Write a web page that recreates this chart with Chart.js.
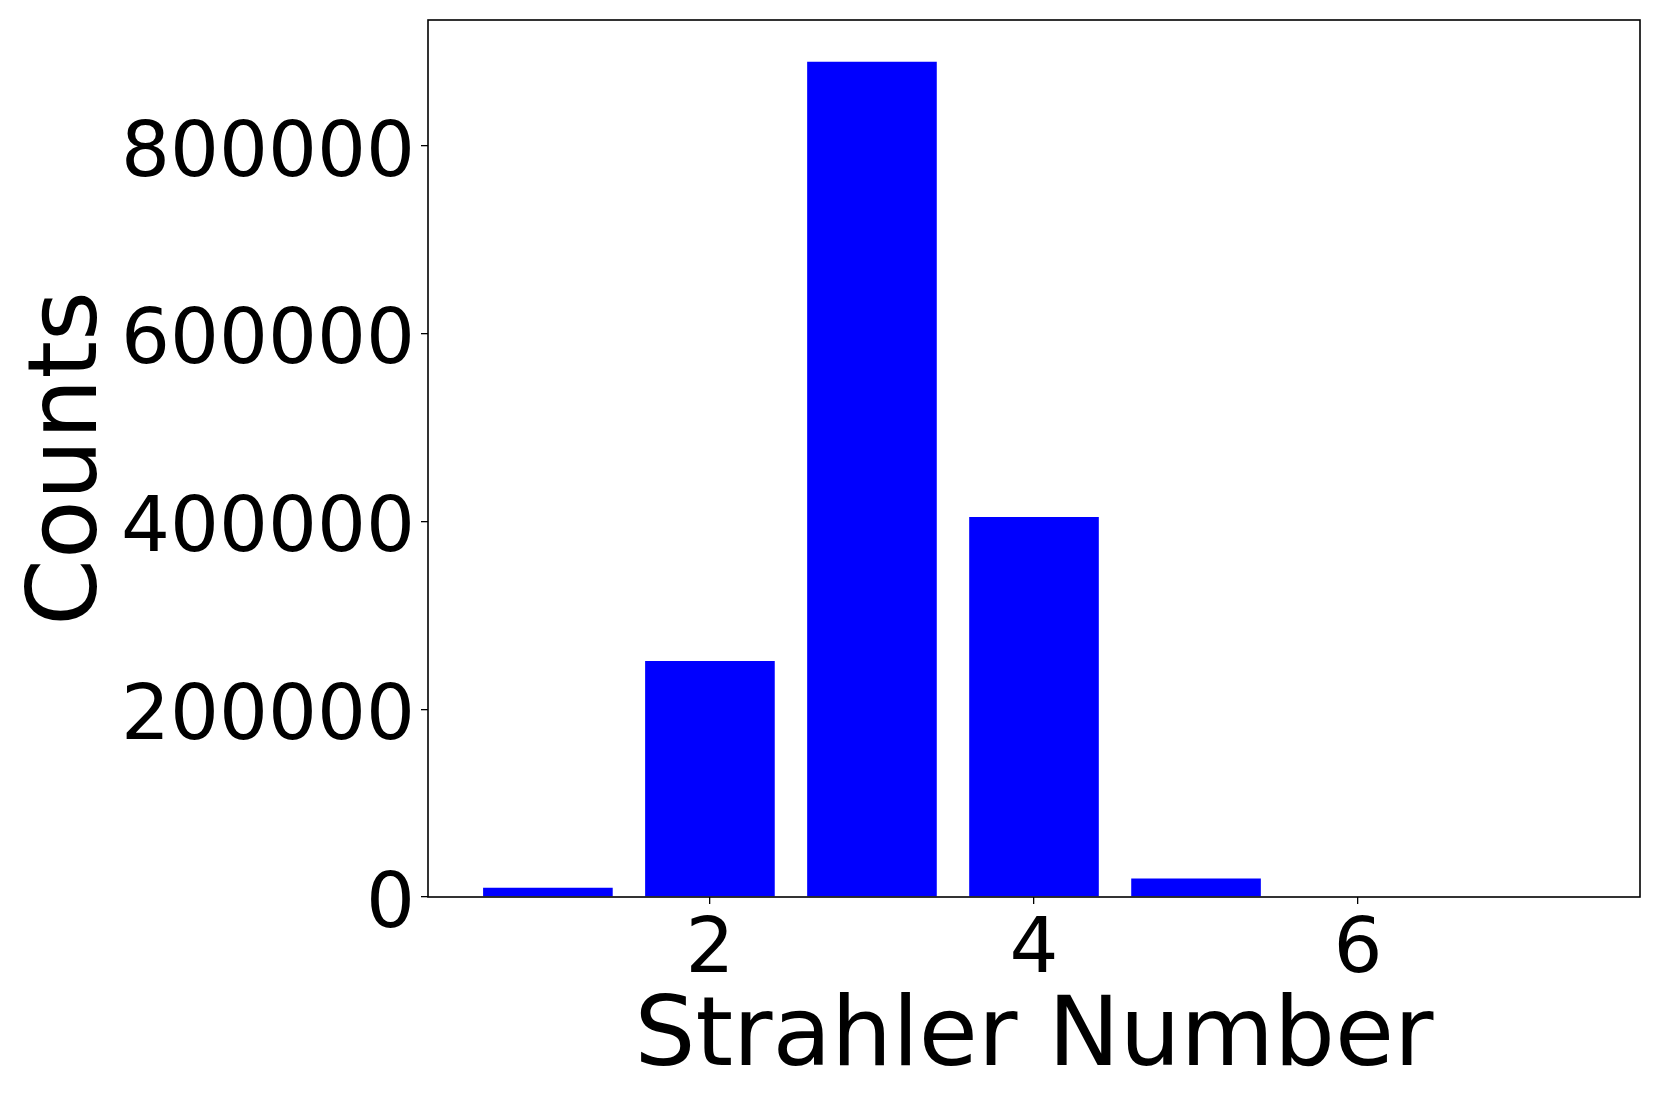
<!DOCTYPE html>
<html>
<head>
<meta charset="utf-8">
<script src="https://cdn.jsdelivr.net/npm/chart.js@4.4.0/dist/chart.umd.min.js"></script>
<style>
  html, body { margin: 0; padding: 0; background: #ffffff; }
  #wrap { width: 1661px; height: 1107px; }
</style>
</head>
<body>
<div id="wrap"><canvas id="strahlerChart" width="1661" height="1107"></canvas></div>
<script>
// Strahler number histogram
const strahlerNumbers = [1, 2, 3, 4, 5, 6, 7];
const counts = [9900, 251300, 889300, 404700, 19800, 0, 0];
const yTicks = [0, 200000, 400000, 600000, 800000];
const xTicks = [2, 4, 6];

const FONT = "'DejaVu Sans', sans-serif";

// matplotlib style: 5% margins around the bars
const maxCount = Math.max(...counts);
const yMax = maxCount * 1.05;
const xSpan = (strahlerNumbers[strahlerNumbers.length - 1] + 0.4) - (strahlerNumbers[0] - 0.4);
const xMin = strahlerNumbers[0] - 0.4 - xSpan * 0.05;
const xMax = strahlerNumbers[strahlerNumbers.length - 1] + 0.4 + xSpan * 0.05;

// closed box around the plot area
const frameBox = {
    id: 'frameBox',
    afterDraw(chart) {
        const { ctx, chartArea } = chart;
        ctx.save();
        ctx.strokeStyle = '#000000';
        ctx.lineWidth = 1.6;
        ctx.strokeRect(chartArea.left, chartArea.top, chartArea.right - chartArea.left, chartArea.bottom - chartArea.top);
        ctx.restore();
    }
};

const ctx = document.getElementById('strahlerChart').getContext('2d');
new Chart(ctx, {
    type: 'bar',
    data: {
        datasets: [{
            data: strahlerNumbers.map((n, i) => ({ x: n, y: counts[i] })),
            backgroundColor: '#0000ff',
            borderWidth: 0,
            barPercentage: 0.8,
            categoryPercentage: 1.0
        }]
    },
    options: {
        responsive: false,
        animation: false,
        layout: { padding: { top: 20, right: 21, left: 0, bottom: 0 } },
        plugins: { legend: { display: false }, tooltip: { enabled: false } },
        scales: {
            x: {
                type: 'linear',
                min: xMin,
                max: xMax,
                offset: false,
                afterBuildTicks: (scale) => { scale.ticks = xTicks.map(v => ({ value: v })); },
                afterFit: (scale) => {
                    scale.height = 210;
                    scale.paddingLeft = 0;
                    scale.paddingRight = 0;
                },
                grid: { offset: false, drawOnChartArea: false, drawTicks: true, tickLength: 7, color: '#000000', lineWidth: 1.3 },
                border: { display: false },
                ticks: { color: '#000000', padding: 2, maxRotation: 0, font: { family: FONT, size: 77 } },
                title: { display: true, text: 'Strahler Number', color: '#000000', padding: { top: 0, bottom: 9 }, font: { family: FONT, size: 96 } }
            },
            y: {
                min: 0,
                max: yMax,
                afterBuildTicks: (scale) => { scale.ticks = yTicks.map(v => ({ value: v })); },
                afterFit: (scale) => {
                    scale.width = 428;
                    scale.paddingTop = 0;
                    scale.paddingBottom = 0;
                },
                grid: { drawOnChartArea: false, drawTicks: true, tickLength: 7, color: '#000000', lineWidth: 1.3 },
                border: { display: false },
                ticks: { color: '#000000', padding: 6, labelOffset: 10, font: { family: FONT, size: 77 }, callback: (v) => String(v) },
                title: { display: true, text: 'Counts', color: '#000000', padding: { top: 13, bottom: 0 }, font: { family: FONT, size: 96 } }
            }
        }
    },
    plugins: [frameBox]
});
</script>
</body>
</html>
